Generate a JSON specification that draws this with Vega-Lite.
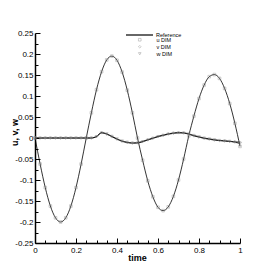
{
  "$schema": "https://vega.github.io/schema/vega-lite/v6.json",
  "width": 205,
  "height": 210,
  "autosize": "none",
  "padding": {"left": 35, "top": 33, "right": 34, "bottom": 31},
  "background": "white",
  "config": {"view": {"stroke": null}, "font": "Liberation Sans"},
  "data": {"values": [
    {"t": 0, "u": 0, "v": 0, "w": 0},
    {"t": 0.025, "u": -0.062, "v": 0, "w": 0},
    {"t": 0.05, "u": -0.118, "v": 0, "w": 0},
    {"t": 0.075, "u": -0.162, "v": 0, "w": 0},
    {"t": 0.1, "u": -0.19, "v": 0, "w": 0},
    {"t": 0.125, "u": -0.2, "v": 0, "w": 0},
    {"t": 0.15, "u": -0.19, "v": 0, "w": 0},
    {"t": 0.175, "u": -0.162, "v": 0, "w": 0},
    {"t": 0.2, "u": -0.118, "v": 0, "w": 0},
    {"t": 0.225, "u": -0.062, "v": 0, "w": 0},
    {"t": 0.25, "u": 0, "v": 0, "w": 0},
    {"t": 0.275, "u": 0.06, "v": 0, "w": 0},
    {"t": 0.3, "u": 0.115, "v": 0.004, "w": 0.003},
    {"t": 0.325, "u": 0.158, "v": 0.013, "w": 0.012},
    {"t": 0.35, "u": 0.186, "v": 0.009, "w": 0.01},
    {"t": 0.375, "u": 0.195, "v": 0.003, "w": 0.004},
    {"t": 0.4, "u": 0.185, "v": -0.003, "w": -0.002},
    {"t": 0.425, "u": 0.157, "v": -0.008, "w": -0.007},
    {"t": 0.45, "u": 0.114, "v": -0.011, "w": -0.01},
    {"t": 0.475, "u": 0.06, "v": -0.012, "w": -0.012},
    {"t": 0.5, "u": 0, "v": -0.011, "w": -0.012},
    {"t": 0.525, "u": -0.053, "v": -0.008, "w": -0.009},
    {"t": 0.55, "u": -0.102, "v": -0.004, "w": -0.005},
    {"t": 0.575, "u": -0.14, "v": 0, "w": -0.001},
    {"t": 0.6, "u": -0.165, "v": 0.004, "w": 0.003},
    {"t": 0.625, "u": -0.173, "v": 0.007, "w": 0.006},
    {"t": 0.65, "u": -0.164, "v": 0.01, "w": 0.009},
    {"t": 0.675, "u": -0.139, "v": 0.012, "w": 0.011},
    {"t": 0.7, "u": -0.1, "v": 0.013, "w": 0.012},
    {"t": 0.725, "u": -0.05, "v": 0.012, "w": 0.012},
    {"t": 0.75, "u": 0.005, "v": 0.009, "w": 0.01},
    {"t": 0.775, "u": 0.052, "v": 0.005, "w": 0.006},
    {"t": 0.8, "u": 0.094, "v": 0.002, "w": 0.003},
    {"t": 0.825, "u": 0.126, "v": -0.001, "w": 0},
    {"t": 0.85, "u": 0.146, "v": -0.003, "w": -0.002},
    {"t": 0.875, "u": 0.151, "v": -0.005, "w": -0.004},
    {"t": 0.9, "u": 0.142, "v": -0.006, "w": -0.006},
    {"t": 0.925, "u": 0.118, "v": -0.007, "w": -0.007},
    {"t": 0.95, "u": 0.082, "v": -0.008, "w": -0.008},
    {"t": 0.975, "u": 0.035, "v": -0.009, "w": -0.01},
    {"t": 1, "u": -0.02, "v": -0.01, "w": -0.013}
  ]},
  "transform": [{"fold": ["u", "v", "w"], "as": ["comp", "val"]}],
  "encoding": {
    "x": {
      "field": "t", "type": "quantitative",
      "scale": {"domain": [0, 1], "nice": false},
      "axis": {
        "values": [0,0.05,0.1,0.15,0.2,0.25,0.3,0.35,0.4,0.45,0.5,0.55,0.6,0.65,0.7,0.75,0.8,0.85,0.9,0.95,1],
        "format": "~g",
        "labelExpr": "abs(datum.value*5-round(datum.value*5))<0.001 ? datum.label : ''",
        "tickSize": {"condition": {"test": "abs(datum.value*5-round(datum.value*5))<0.001", "value": -5}, "value": -3},
        "labelPadding": 8,
        "labelFontSize": 8, "labelColor": "black", "labelFlush": false, "labelOverlap": false,
        "domainColor": "black", "domainWidth": 1.5, "tickColor": "black", "tickWidth": 1,
        "grid": false,
        "title": "time", "titleFontSize": 9, "titleFontWeight": "bold", "titleColor": "black",
        "titleX": 102, "titleY": 14, "titleBaseline": "middle", "titleAnchor": null
      }
    },
    "y": {
      "field": "val", "type": "quantitative",
      "scale": {"domain": [-0.25, 0.25], "nice": false},
      "axis": {
        "values": [-0.25,-0.225,-0.2,-0.175,-0.15,-0.125,-0.1,-0.075,-0.05,-0.025,0,0.025,0.05,0.075,0.1,0.125,0.15,0.175,0.2,0.225,0.25],
        "format": "~g",
        "labelExpr": "abs(datum.value*20-round(datum.value*20))<0.001 ? replace(datum.label,'\u2212','-') : ''",
        "tickSize": {"condition": {"test": "abs(datum.value*20-round(datum.value*20))<0.001", "value": -5}, "value": -3},
        "labelPadding": 7,
        "labelFontSize": 8, "labelColor": "black", "labelFlush": false, "labelOverlap": false,
        "domainColor": "black", "domainWidth": 1.5, "tickColor": "black", "tickWidth": 1,
        "grid": false,
        "title": "u, v, w", "titleFontSize": 9, "titleFontWeight": "bold", "titleColor": "black",
        "titleX": -21, "titleY": 99, "titleBaseline": "middle", "titleAngle": -90
      }
    }
  },
  "layer": [
    {
      "mark": {"type": "line", "strokeWidth": 0.8, "interpolate": "monotone"},
      "encoding": {
        "detail": {"field": "comp"},
        "color": {
          "datum": "Reference",
          "scale": {"range": ["black"]},
          "legend": {
            "orient": "none", "legendX": 90, "legendY": -12.5, "title": null,
            "symbolType": "stroke", "symbolSize": 729, "symbolStrokeWidth": 1.2,
            "labelFontSize": 5.5, "labelColor": "black", "labelOffset": 2, "padding": 0
          }
        }
      }
    },
    {
      "mark": {"type": "point", "filled": false, "size": 7, "strokeWidth": 0.6, "color": "#8a8a8a"},
      "encoding": {
        "shape": {
          "field": "comp", "type": "nominal",
          "scale": {"domain": ["u", "v", "w"], "range": ["square", "diamond", "triangle-down"]},
          "legend": {
            "orient": "none", "legendX": 102, "legendY": 4, "title": null,
            "labelExpr": "datum.label + ' DIM'",
            "labelFontSize": 5.5, "labelColor": "black", "labelOffset": 14, "padding": 0,
            "rowPadding": 0, "symbolSize": 7, "symbolStrokeColor": "#8a8a8a", "symbolStrokeWidth": 0.6, "symbolFillColor": "transparent"
          }
        }
      }
    }
  ]
}
